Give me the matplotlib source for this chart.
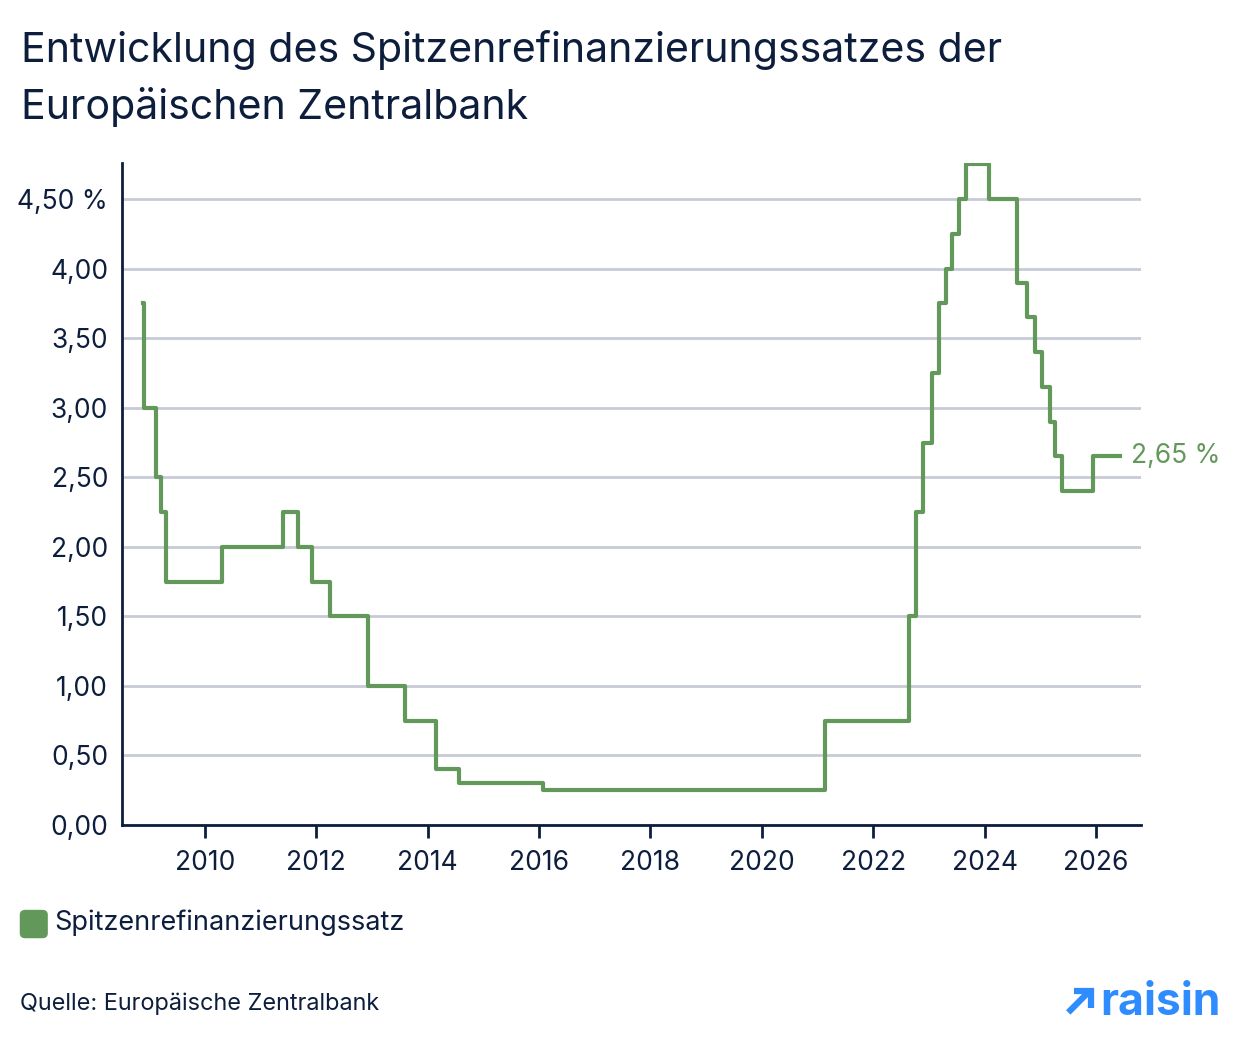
import matplotlib
matplotlib.use("Agg")
import matplotlib.pyplot as plt
from matplotlib.patches import FancyBboxPatch
from matplotlib.lines import Line2D

plt.rcParams['font.family'] = ['Inter', 'DejaVu Sans']

# Zeitpunkte der Zinsänderungen (Dezimaljahre)
change_dates = [2008.887, 2008.905, 2009.12, 2009.21, 2009.30, 2010.31, 2011.40,
                2011.67, 2011.92, 2012.24, 2012.93, 2013.59, 2014.15, 2014.56,
                2016.07, 2021.13, 2022.64, 2022.77, 2022.89, 2023.05, 2023.18,
                2023.31, 2023.41, 2023.54, 2023.66, 2024.08, 2024.58, 2024.76,
                2024.90, 2025.03, 2025.17, 2025.26, 2025.39, 2025.95, 2026.43]
rates = [3.75, 3.00, 2.50, 2.25, 1.75, 2.00, 2.25,
         2.00, 1.75, 1.50, 1.00, 0.75, 0.40, 0.30,
         0.25, 0.75, 1.50, 2.25, 2.75, 3.25, 3.75,
         4.00, 4.25, 4.50, 4.75, 4.50, 3.90, 3.65,
         3.40, 3.15, 2.90, 2.65, 2.40, 2.65, 2.65]

x_ticks = list(range(2010, 2027, 2))
y_ticks = [0, 0.5, 1.0, 1.5, 2.0, 2.5, 3.0, 3.5, 4.0, 4.5]
y_labels = ['0,00', '0,50', '1,00', '1,50', '2,00', '2,50', '3,00', '3,50', '4,00', '4,50 %']

navy = '#0d1e3d'
green = '#62995b'
grid_col = '#c7cbd6'
blue = '#2f8cff'

fig = plt.figure(figsize=(12.4, 10.4), dpi=100)
ax = fig.add_axes([0.0984, 0.2067, 0.8218, 0.6366])

ax.step(change_dates, rates, where='post', color=green, lw=3, zorder=3)

ax.set_xlim(2008.51, 2026.81)
ax.set_ylim(0, 4.76)
ax.set_xticks(x_ticks)
ax.set_xticklabels([str(t) for t in x_ticks])
ax.set_yticks(y_ticks)
ax.set_yticklabels(y_labels)

ax.grid(axis='y', color=grid_col, lw=2)
ax.set_axisbelow(True)
for s in ['top', 'right']:
    ax.spines[s].set_visible(False)
for s in ['left', 'bottom']:
    ax.spines[s].set_color(navy)
    ax.spines[s].set_linewidth(2)
ax.tick_params(axis='x', length=9, width=2, color=navy, labelsize=19,
               labelcolor=navy, pad=9)
ax.tick_params(axis='y', length=0, labelsize=19, labelcolor=navy, pad=10)

ax.annotate('2,65 %', xy=(change_dates[-1], rates[-1]), xytext=(8, 0),
            textcoords='offset points', color=green, fontsize=19, va='center', ha='left')

# Titel
fig.text(0.017, 0.940, 'Entwicklung des Spitzenrefinanzierungssatzes der',
         fontsize=29.6, color=navy, va='baseline', ha='left')
fig.text(0.017, 0.886, 'Europäischen Zentralbank',
         fontsize=29.6, color=navy, va='baseline', ha='left')

# Legende
fig.patches.append(FancyBboxPatch((0.0165, 0.0985), 0.0215, 0.026,
                                  boxstyle='round,pad=0,rounding_size=0.004',
                                  transform=fig.transFigure, color=green))
fig.text(0.044, 0.1125, 'Spitzenrefinanzierungssatz', fontsize=19.5, color=navy,
         va='center', ha='left')

fig.text(0.016, 0.035, 'Quelle: Europäische Zentralbank', fontsize=16.9, color=navy,
         va='center', ha='left')

# Logo
fig.lines.append(Line2D([0.8615, 0.879], [0.0265, 0.0475], transform=fig.transFigure,
                        color=blue, lw=4.5, solid_capstyle='butt'))
fig.lines.append(Line2D([0.866, 0.880, 0.880], [0.0475, 0.0475, 0.0305],
                        transform=fig.transFigure, color=blue, lw=4.5,
                        solid_capstyle='butt', solid_joinstyle='miter'))
fig.text(0.887, 0.036, 'raisin', fontsize=32, color=blue, fontweight='bold',
         va='center', ha='left')

fig.savefig('out.png', dpi=100)
